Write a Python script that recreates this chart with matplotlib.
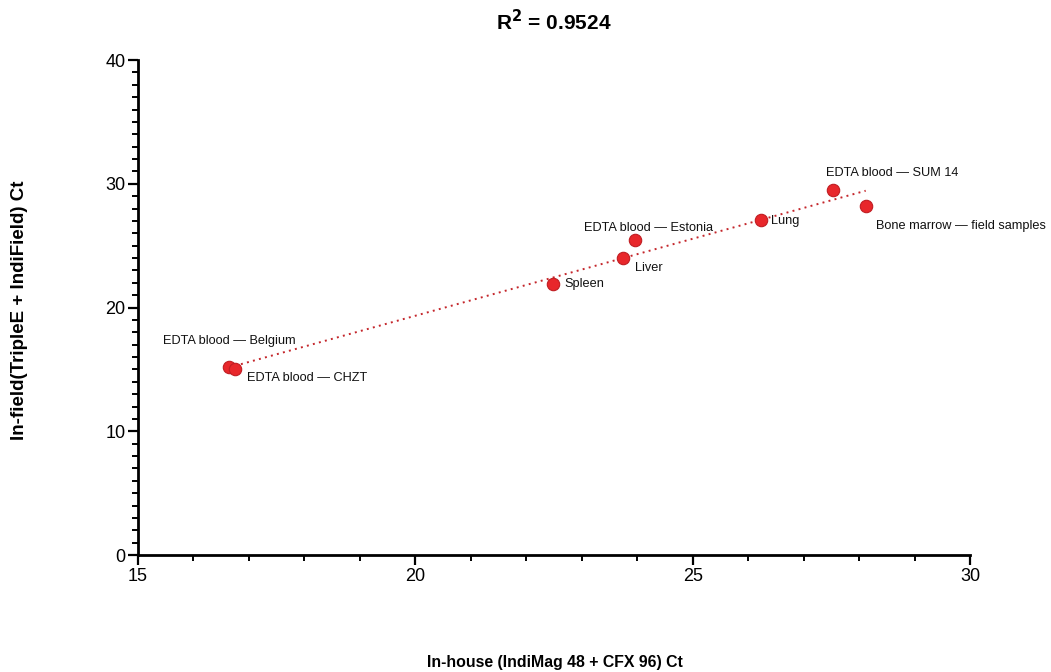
import matplotlib
matplotlib.use("Agg")
import matplotlib.pyplot as plt
import numpy as np
from matplotlib.ticker import MultipleLocator

# sample labels and Ct values
labels = [
    "EDTA blood \u2014 Belgium",
    "EDTA blood \u2014 CHZT",
    "Spleen",
    "Liver",
    "EDTA blood \u2014 Estonia",
    "Lung",
    "EDTA blood \u2014 SUM 14",
    "Bone marrow \u2014 field samples",
]
inhouse_ct = [16.64, 16.75, 22.48, 23.74, 23.96, 26.23, 27.53, 28.12]
infield_ct = [15.19, 15.03, 21.9, 24.0, 25.45, 27.07, 29.49, 28.2]
r2_text = "0.9524"

# label offsets in pixels (dx, dy)
offsets = [(-66, 26), (12, -9), (12, 0), (12, -10), (-51, 12), (10, -1), (-7, 17), (10, -20)]

plt.rcParams['font.family'] = ["Liberation Sans", "DejaVu Sans"]

fig = plt.figure(figsize=(10.51, 6.72), dpi=100)
ax = fig.add_axes([0.1313, 0.1741, 0.7916, 0.7366])

x = np.array(inhouse_ct)
y = np.array(infield_ct)

# linear trend line
k, b = np.polyfit(x, y, 1)
xx = np.array([x.min(), x.max()])
ax.plot(xx, k*xx + b, linestyle=(0, (1, 2.2)), color='#c4262b', lw=1.4, zorder=2)

ax.scatter(x, y, s=80, c='#e8272b', edgecolors='#c01d22', linewidths=0.8, zorder=3)

for lab, xi, yi, (dx, dy) in zip(labels, x, y, offsets):
  ax.annotate(lab, (xi, yi), xytext=(dx, dy), textcoords='offset pixels',
              ha='left', va='center', fontsize=9.2, color='#111111')

ax.set_xlim(15, 30)
ax.set_ylim(0, 40)
ax.xaxis.set_major_locator(MultipleLocator(5))
ax.xaxis.set_minor_locator(MultipleLocator(1))
ax.yaxis.set_major_locator(MultipleLocator(10))
ax.yaxis.set_minor_locator(MultipleLocator(1))

for s in ['top', 'right']:
  ax.spines[s].set_visible(False)
for s in ['left', 'bottom']:
  ax.spines[s].set_linewidth(2)
ax.tick_params(which='major', direction='out', length=7, width=1.6, labelsize=13, pad=2)
ax.tick_params(which='minor', direction='out', length=4, width=1.4)

fig.text(554/1051, 1 - 22/672, r"R$^\mathbf{2}$ = " + r2_text, fontsize=15,
         fontweight='bold', ha='center', va='center')
fig.text(555/1051, 1 - 662/672, "In-house (IndiMag 48 + CFX 96) Ct", fontsize=11.4,
         fontweight='bold', ha='center', va='center')
fig.text(20/1051, 1 - 310/672, "In-field(TripleE + IndiField) Ct", fontsize=13.5,
         fontweight='bold', ha='center', va='center', rotation=90)

fig.savefig("out.png", dpi=100)
